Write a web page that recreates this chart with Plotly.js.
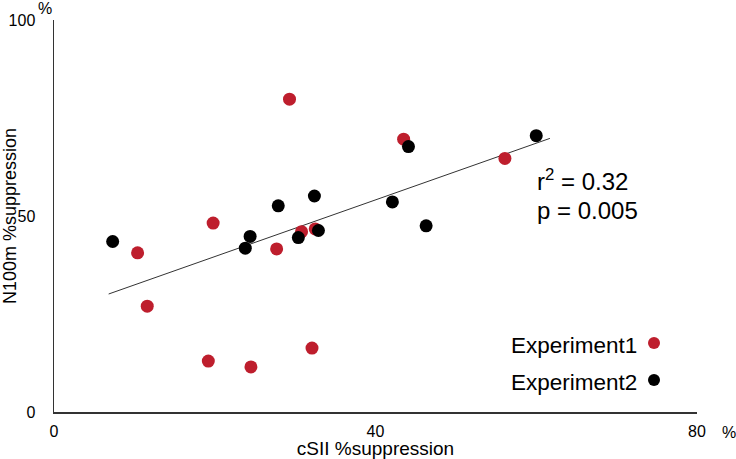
<!DOCTYPE html>
<html>
<head>
<meta charset="utf-8">
<script src="https://cdn.plot.ly/plotly-3.0.1.min.js"></script>
<style>html,body{margin:0;padding:0;background:#fff;}#chart{width:736px;height:459px;}</style>
</head>
<body>
<div id="chart"></div>
<script>
// Experiment 1 (red)
const exp1X = [29.3, 19.8, 10.4, 11.6, 19.2, 24.5, 32.1, 27.7, 30.8, 32.5, 43.5, 56.1];
const exp1Y = [79.8, 48.2, 40.6, 27.0, 13.0, 11.5, 16.3, 41.6, 46.0, 46.7, 69.6, 64.7];
// Experiment 2 (black)
const exp2X = [7.3, 23.8, 24.4, 27.9, 32.4, 30.4, 32.9, 42.1, 46.3, 44.1, 60.0];
const exp2Y = [43.5, 41.8, 44.8, 52.6, 55.1, 44.5, 46.3, 53.6, 47.5, 67.7, 70.5];
// Regression line
const fitX = [6.8, 61.7];
const fitY = [30.1, 69.8];
// Ticks
const xTicks = [0, 40, 80];
const yTicks = [0, 50, 100];
const seriesNames = ['Experiment1', 'Experiment2'];
const statsText = ['r<sup>2</sup> = 0.32', 'p = 0.005'];

const red = '#BE1E2D';
const font = 'Liberation Sans, Arial, sans-serif';

const traces = [
  {x: fitX, y: fitY, mode: 'lines', line: {color: '#333', width: 1}, showlegend: false, hoverinfo: 'skip'},
  {x: exp1X, y: exp1Y, mode: 'markers', name: seriesNames[0], marker: {color: red, size: 13}, cliponaxis: false},
  {x: exp2X, y: exp2Y, mode: 'markers', name: seriesNames[1], marker: {color: '#000', size: 13}, cliponaxis: false}
];

const layout = {
  width: 736, height: 459,
  margin: {l: 54, r: 39, t: 20, b: 47},
  paper_bgcolor: '#fff', plot_bgcolor: '#fff',
  showlegend: false,
  font: {family: font, color: '#000', size: 16},
  xaxis: {
    range: [0, 80], tickvals: xTicks, ticktext: xTicks.map(String),
    showgrid: false, zeroline: false, showline: true, linecolor: '#333', linewidth: 1.5,
    ticks: '', ticklabelstandoff: 4, tickfont: {size: 16},
    title: {text: 'cSII %suppression', font: {size: 19}, standoff: 3}
  },
  yaxis: {
    range: [0, 100], tickvals: yTicks, ticktext: yTicks.map(String),
    showgrid: false, zeroline: false, showline: true, linecolor: '#333', linewidth: 1.5,
    ticks: '', ticklabelstandoff: 14, tickfont: {size: 16},
    title: {text: 'N100m %suppression', font: {size: 18}, standoff: 2}
  },
  annotations: [
    {text: '%', xref: 'paper', yref: 'paper', x: (45-54)/643, y: (412-9)/392, xanchor: 'center', yanchor: 'middle', showarrow: false, font: {size: 16}},
    {text: statsText[0], xref: 'paper', yref: 'paper', x: (535-54)/643, y: (412-180)/392, xanchor: 'left', yanchor: 'middle', showarrow: false, font: {size: 24}},
    {text: statsText[1], xref: 'paper', yref: 'paper', x: (535-54)/643, y: (412-210)/392, xanchor: 'left', yanchor: 'middle', showarrow: false, font: {size: 24}},
    {text: seriesNames[0], xref: 'paper', yref: 'paper', x: (639-54)/643, y: (412-345)/392, xanchor: 'right', yanchor: 'middle', showarrow: false, font: {size: 22.5}},
    {text: seriesNames[1], xref: 'paper', yref: 'paper', x: (639-54)/643, y: (412-382)/392, xanchor: 'right', yanchor: 'middle', showarrow: false, font: {size: 22.5}},
    {text: '%', xref: 'paper', yref: 'paper', x: (729-54)/643, y: -(432-412)/392, xanchor: 'center', yanchor: 'middle', showarrow: false, font: {size: 16}}
  ],
  shapes: [
    {type: 'circle', xref: 'paper', yref: 'paper', xsizemode: 'pixel', ysizemode: 'pixel',
     xanchor: (654-54)/643, yanchor: (412-343)/392, x0: -6, x1: 6, y0: -6, y1: 6,
     fillcolor: red, line: {width: 0}},
    {type: 'circle', xref: 'paper', yref: 'paper', xsizemode: 'pixel', ysizemode: 'pixel',
     xanchor: (654-54)/643, yanchor: (412-380)/392, x0: -6, x1: 6, y0: -6, y1: 6,
     fillcolor: '#000', line: {width: 0}}
  ]
};

Plotly.newPlot('chart', traces, layout, {displayModeBar: false, staticPlot: true});
</script>
</body>
</html>
